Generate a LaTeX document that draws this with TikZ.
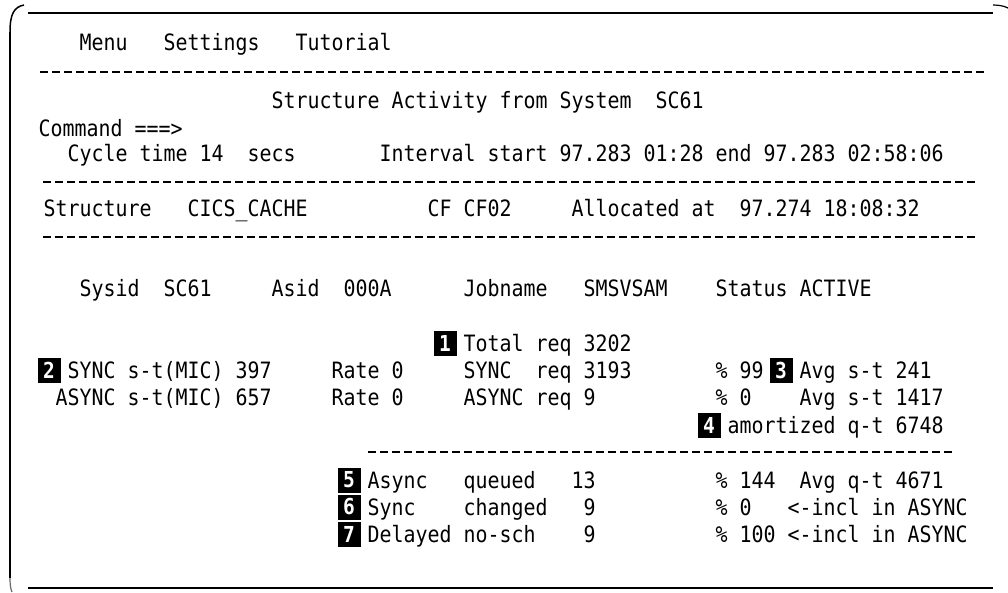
\documentclass[tikz,border=0pt]{standalone}
\usepackage{fontspec}
\newfontfamily\scrfont[FakeStretch=0.886]{DejaVu Sans Mono}
\begin{document}
\begin{tikzpicture}[x=1pt,y=-1pt,
  txt/.style={anchor=base west, inner sep=0pt, outer sep=0pt,
    font=\scrfont\fontsize{22.5}{27}\selectfont},
  badge/.style={fill=black, text=white, minimum width=23pt, minimum height=25pt,
    inner sep=0pt, font=\scrfont\bfseries\fontsize{22}{22}\selectfont},
  sepline/.style={line width=2pt, dash pattern=on 8pt off 4pt},
  frameline/.style={line width=2pt}]
\useasboundingbox (0,0) rectangle (1008,592);
% frame
\draw[frameline] (28,13) -- (993,13);
\draw[frameline] (28,588) -- (993,588);
\draw[line width=1.5pt] (10,32) -- (10,578);
\draw[line width=1.5pt] (10,32) .. controls (10,14) and (14,7) .. (24,5);
\draw[line width=1.2pt] (993,5) .. controls (999,5) and (1004,6) .. (1008,8);
\draw[line width=1.2pt, black!60] (10,578) .. controls (10,586) and (11,590) .. (12,592);
% separators
\draw[sepline] (40,72) -- (984,72);
\draw[sepline] (43,182) -- (975,182);
\draw[sepline] (43,237) -- (975,237);
\draw[sepline] (368,452) -- (952,452);
% row 0
\node[txt] (menu) at ({7.5+12*6},50) {Menu};
\node[txt] (settings) at ({7.5+12*13},50) {Settings};
\node[txt] (tutorial) at ({7.5+12*24},50) {Tutorial};
% title
\node[txt] (title) at ({7.5+12*22},108) {Structure Activity from System~~SC61};
\node[txt] (cmd) at (38.5,136) {Command ===>};
\node[txt] (cycle) at ({7.5+12*5},161) {Cycle time 14~~secs};
\node[txt] (interval) at ({7.5+12*31},161) {Interval start 97.283 01:28 end 97.283 02:58:06};
% structure row
\node[txt] (struct) at ({7.5+12*3},216) {Structure};
\node[txt] (cics) at ({7.5+12*15},216) {CICS\_CACHE};
\node[txt] (cf) at ({7.5+12*35},216) {CF CF02};
\node[txt] (alloc) at ({7.5+12*47},216) {Allocated at~~97.274 18:08:32};
% sysid row
\node[txt] (sysid) at ({7.5+12*6},296) {Sysid~~SC61};
\node[txt] (asid) at ({7.5+12*22},296) {Asid~~000A};
\node[txt] (job) at ({7.5+12*38},296) {Jobname~~~SMSVSAM};
\node[txt] (status) at ({7.5+12*59},296) {Status ACTIVE};
% total
\node[badge] (b1) at (445,343) {1};
\node[txt] (total) at ({7.5+12*38},351) {Total req 3202};
% sync row
\node[badge] (b2) at (49,370) {2};
\node[txt] (syncst) at ({7.5+12*5},378) {SYNC s-t(MIC) 397};
\node[txt] (rate1) at ({7.5+12*27},378) {Rate 0};
\node[txt] (syncreq) at ({7.5+12*38},378) {SYNC~~req 3193};
\node[txt] (pct1) at ({7.5+12*59},378) {\% 99};
\node[badge] (b3) at (781,370) {3};
\node[txt] (avg1) at ({7.5+12*66},378) {Avg s-t 241};
% async row
\node[txt] (asyncst) at ({7.5+12*4},405) {ASYNC s-t(MIC) 657};
\node[txt] (rate2) at ({7.5+12*27},405) {Rate 0};
\node[txt] (asyncreq) at ({7.5+12*38},405) {ASYNC req 9};
\node[txt] (pct2) at ({7.5+12*59},405) {\% 0};
\node[txt] (avg2) at ({7.5+12*66},405) {Avg s-t 1417};
% amortized
\node[badge] (b4) at (709,425) {4};
\node[txt] (amort) at ({7.5+12*60},433) {amortized q-t 6748};
% lower block
\node[badge] (b5) at (349,480) {5};
\node[txt] (async) at ({7.5+12*30},488) {Async};
\node[txt] (queued) at ({7.5+12*38},488) {queued};
\node[txt] (n13) at ({7.5+12*47},488) {13};
\node[txt] (pct3) at ({7.5+12*59},488) {\% 144};
\node[txt] (avg3) at ({7.5+12*66},488) {Avg q-t 4671};
\node[badge] (b6) at (349,507) {6};
\node[txt] (sync) at ({7.5+12*30},515) {Sync};
\node[txt] (changed) at ({7.5+12*38},515) {changed};
\node[txt] (n9a) at ({7.5+12*48},515) {9};
\node[txt] (pct4) at ({7.5+12*59},515) {\% 0};
\node[txt] (incl1) at ({7.5+12*65},515) {<-incl in ASYNC};
\node[badge] (b7) at (349,534) {7};
\node[txt] (delayed) at ({7.5+12*30},542) {Delayed};
\node[txt] (nosch) at ({7.5+12*38},542) {no-sch};
\node[txt] (n9b) at ({7.5+12*48},542) {9};
\node[txt] (pct5) at ({7.5+12*59},542) {\% 100};
\node[txt] (incl2) at ({7.5+12*65},542) {<-incl in ASYNC};
\end{tikzpicture}
\end{document}
